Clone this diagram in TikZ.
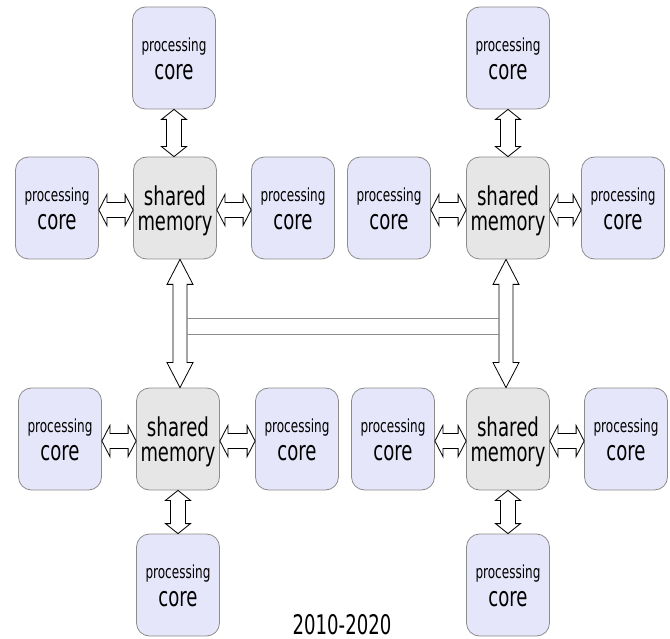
\documentclass[tikz,border=0pt]{standalone}
\usepackage{fontspec}
\setmainfont{DejaVu Sans}
\usetikzlibrary{calc}

\definecolor{corefill}{HTML}{E6E6FA}
\definecolor{memfill}{HTML}{E6E6E6}
\definecolor{boxline}{HTML}{8C8C8C}
\definecolor{busline}{HTML}{8C8C8C}

% narrow, tall lettering
\newcommand\narrowtext[3][0.67]{\scalebox{#1}[1]{\fontsize{#2}{#2}\selectfont #3}}
\newcommand\coretext{\narrowtext{18}{processing}\\\narrowtext{27}{core}}
\newcommand\memtext{\narrowtext[0.7]{26}{shared}\\\narrowtext[0.69]{26}{memory}}

% horizontal double block arrow between two nodes (left, right)
\newcommand\hlink[2]{%
  \draw[blockarrow] let \p1=(#1.east), \p2=(#2.west) in
    (\x1,\y1-2pt) -- (\x1+8pt,\y1-2pt+15.5pt) -- (\x1+8pt,\y1-2pt+7.5pt)
    -- (\x2-8pt,\y1-2pt+7.5pt) -- (\x2-8pt,\y1-2pt+15.5pt) -- (\x2,\y1-2pt)
    -- (\x2-8pt,\y1-2pt-15.5pt) -- (\x2-8pt,\y1-2pt-7.5pt)
    -- (\x1+8pt,\y1-2pt-7.5pt) -- (\x1+8pt,\y1-2pt-15.5pt) -- cycle;}

% vertical double block arrow: x from #1, top node #2, bottom node #3,
% head length #4, head half-width #5, shaft half-width #6
\newcommand\vlink[6]{%
  \draw[blockarrow] let \p1=(#2.south), \p2=(#3.north), \p3=(#1) in
    (\x3,\y1) -- (\x3+#5,\y1-#4) -- (\x3+#6,\y1-#4)
    -- (\x3+#6,\y2+#4) -- (\x3+#5,\y2+#4) -- (\x3,\y2)
    -- (\x3-#5,\y2+#4) -- (\x3-#6,\y2+#4)
    -- (\x3-#6,\y1-#4) -- (\x3-#5,\y1-#4) -- cycle;}

\tikzset{
  box/.style={draw=boxline, line width=0.8pt, rounded corners=13pt,
    minimum width=83pt, minimum height=102pt, inner sep=0pt, align=center},
  core/.style={box, fill=corefill, font=\fontsize{27}{28}\selectfont, text height=44pt},
  mem/.style={box, fill=memfill, font=\fontsize{26}{25}\selectfont, text height=50pt},
  blockarrow/.style={draw=black, fill=white, line width=0.8pt, line join=miter},
  bus/.style={draw=busline, line width=0.8pt},
}

\begin{document}
\begin{tikzpicture}[x=1pt, y=-1pt]
\useasboundingbox (0,0) rectangle (670,639);

% upper left cluster
\node[mem]  (tlm) at (175,208) {\memtext};
\node[core] (tlt) at (174,58)  {\coretext};
\node[core] (tll) at (57,208)  {\coretext};
\node[core] (tlr) at (293,208) {\coretext};

% upper right cluster
\node[mem]  (trm) at (508,208) {\memtext};
\node[core] (trt) at (508,58)  {\coretext};
\node[core] (trl) at (389,208) {\coretext};
\node[core] (trr) at (623,208) {\coretext};

% lower left cluster
\node[mem]  (blm) at (178,439) {\memtext};
\node[core] (blb) at (178,585) {\coretext};
\node[core] (bll) at (60,439)  {\coretext};
\node[core] (blr) at (297,439) {\coretext};

% lower right cluster
\node[mem]  (brm) at (508,439) {\memtext};
\node[core] (brb) at (508,585) {\coretext};
\node[core] (brl) at (393,439) {\coretext};
\node[core] (brr) at (626,439) {\coretext};

% core <-> memory links
\hlink{tll}{tlm} \hlink{tlm}{tlr}
\hlink{trl}{trm} \hlink{trm}{trr}
\hlink{bll}{blm} \hlink{blm}{blr}
\hlink{brl}{brm} \hlink{brm}{brr}
\vlink{tlt.south}{tlt}{tlm}{10pt}{12.5pt}{7.5pt}
\vlink{trt.south}{trt}{trm}{10pt}{12.5pt}{7.5pt}
\vlink{blm.south}{blm}{blb}{10pt}{12.5pt}{7.5pt}
\vlink{brm.south}{brm}{brb}{10pt}{12.5pt}{7.5pt}

% memory <-> memory links
\coordinate (leftx)  at (180,0);
\coordinate (rightx) at (506,0);
\vlink{leftx}{tlm}{blm}{25pt}{13pt}{7pt}
\vlink{rightx}{trm}{brm}{25pt}{13pt}{7pt}

% bus between the two vertical links
\coordinate (busAl) at (187,318);
\coordinate (busAr) at (499,318);
\coordinate (busBl) at (187,334);
\coordinate (busBr) at (499,334);
\draw[bus] (busAl) -- (busAr);
\draw[bus] (busBl) -- (busBr);

\node[anchor=base, inner sep=0pt] (year) at (342,634) {\narrowtext{27}{2010-2020}};
\end{tikzpicture}
\end{document}
